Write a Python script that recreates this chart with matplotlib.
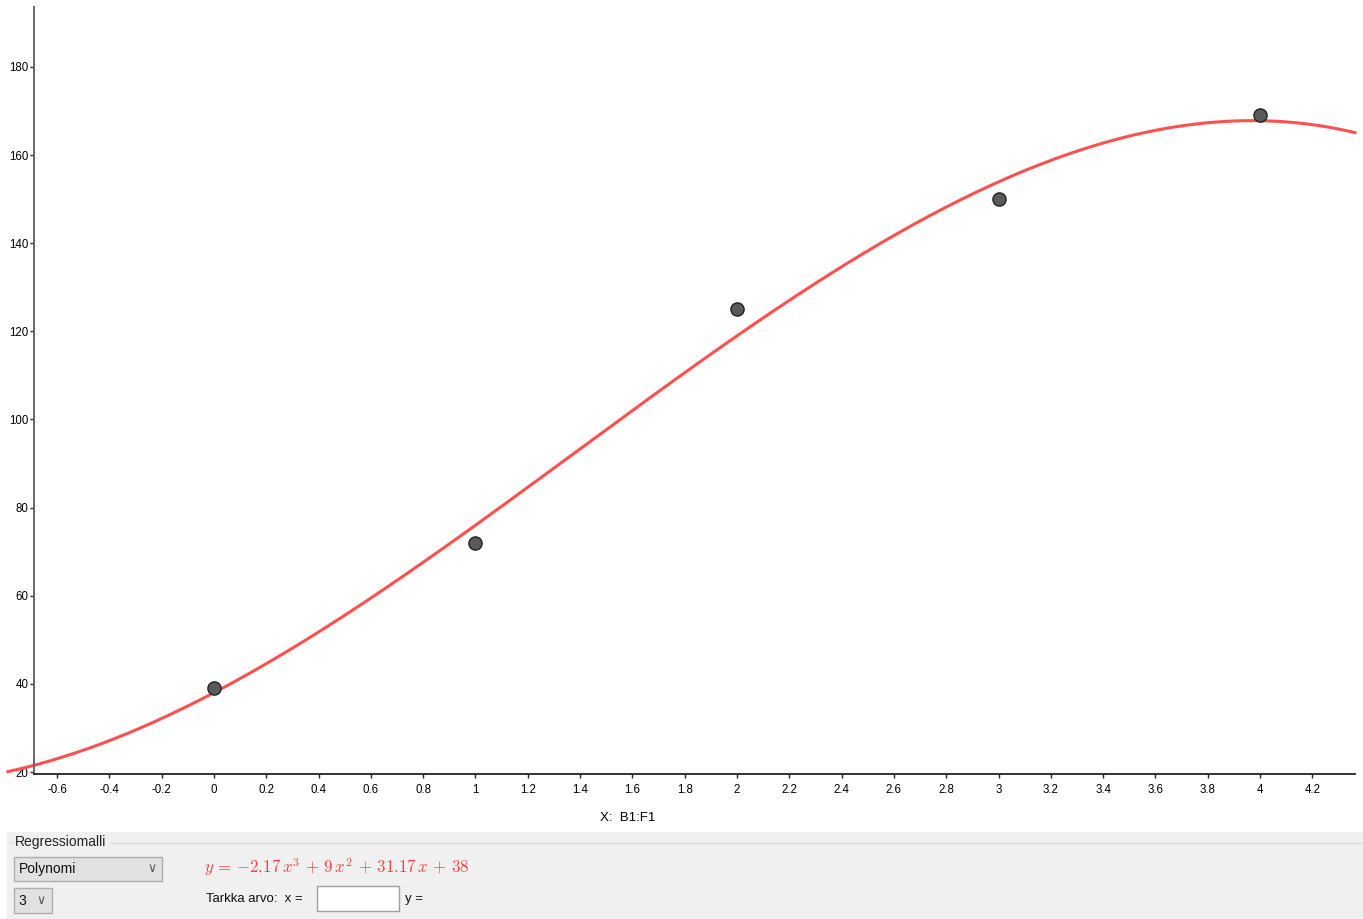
import numpy as np
import matplotlib.pyplot as plt
from matplotlib.patches import Rectangle

plt.rcParams['font.family'] = ['Liberation Sans', 'DejaVu Sans']
plt.rcParams['mathtext.fontset'] = 'cm'

# Data points (cells B1:F1)
x_data = [0, 1, 2, 3, 4]
y_data = [39, 72, 125, 150, 169]

# Cubic regression coefficients (highest power first)
coeffs = [-2.17, 9, 31.17, 38]

x_ticks = np.round(np.arange(-0.6, 4.21, 0.2), 1)
y_ticks = [20, 40, 60, 80, 100, 120, 140, 160, 180]

W, H = 1363, 919
fig = plt.figure(figsize=(W / 100, H / 100), dpi=100)


def fx(px):
    return px / W


def fy(py):
    return 1 - py / H


# plot area in pixels: axis line at x=34, x-axis at y=774
ax_l, ax_r, ax_t, ax_b = 34, 1355, 7, 774
ax = fig.add_axes([fx(ax_l), fy(ax_b), fx(ax_r - ax_l), (ax_b - ax_t) / H])
ax.set_xlim(-0.688, 4.363)
ax.set_ylim(19.55, 193.6)

for s in ['top', 'right']:
    ax.spines[s].set_visible(False)
ax.spines['left'].set_color('#666666')
ax.spines['left'].set_linewidth(1.4)
ax.spines['bottom'].set_color('#222222')
ax.spines['bottom'].set_linewidth(1.3)

ax.set_xticks(x_ticks)
ax.set_xticklabels(['%g' % t for t in x_ticks])
ax.set_yticks(y_ticks)
ax.tick_params(axis='both', direction='out', length=3, width=1, color='#222222',
               labelsize=8.3)
ax.tick_params(axis='y', pad=1)
ax.tick_params(axis='x', pad=4)

# regression curve, extending slightly left of the y-axis line
xs = np.linspace(-0.788, 4.363, 400)
ys = np.polyval(coeffs, xs)
ax.plot(xs, ys, color='#ff5050', lw=2.2, clip_on=False, zorder=2)
ax.plot(x_data, y_data, 'o', ms=9.5, mfc='#5a5a5a', mec='#222222', mew=1.0,
        zorder=3)

fig.text(fx(628), fy(818), 'X:  B1:F1', fontsize=9.5, ha='center', va='center')

# bottom control panel
fig.patches.append(Rectangle((fx(7), 0), fx(W - 7), fy(832), transform=fig.transFigure,
                             facecolor='#f0f0f0', edgecolor='none', zorder=0))
fig.add_artist(plt.Line2D([fx(110), fx(W)], [fy(843), fy(843)], color='#dcdcdc', lw=1))
fig.add_artist(plt.Line2D([fx(9), fx(12)], [fy(843), fy(843)], color='#dcdcdc', lw=1))
fig.text(fx(15), fy(842), 'Regressiomalli', fontsize=10, va='center', color='#222222')

# dropdowns
fig.patches.append(Rectangle((fx(14), fy(881)), fx(148), (881 - 857) / H,
                             transform=fig.transFigure, facecolor='#e1e1e1',
                             edgecolor='#adadad', lw=1))
fig.text(fx(19), fy(869), 'Polynomi', fontsize=10, va='center', color='#111111')
fig.text(fx(152), fy(869), '\u2228', fontsize=9, va='center', ha='center', color='#555555')
fig.patches.append(Rectangle((fx(14), fy(913)), fx(38), (913 - 888) / H,
                             transform=fig.transFigure, facecolor='#e1e1e1',
                             edgecolor='#adadad', lw=1))
fig.text(fx(18), fy(901), '3', fontsize=10, va='center', color='#111111')
fig.text(fx(41), fy(901), '\u2228', fontsize=9, va='center', ha='center', color='#555555')

# regression equation
a3, a2, a1, a0 = coeffs
sp = r'\,'
eq = (r'$y' + sp + '=' + sp + '{-}%g' % abs(a3) + r'\,x^3' + sp + '+' + sp + '%g' % a2
      + r'\,x^2' + sp + '+' + sp + '%g' % a1 + r'\,x' + sp + '+' + sp + '%g$' % a0)
fig.text(fx(204), fy(867), eq, fontsize=12.2, va='center', color='#ff4040')

fig.text(fx(206), fy(899), 'Tarkka arvo:  x =', fontsize=9.5, va='center', color='#111111')
fig.patches.append(Rectangle((fx(317), fy(911)), fx(82), (911 - 886) / H,
                             transform=fig.transFigure, facecolor='white',
                             edgecolor='#a0a0a0', lw=1))
fig.text(fx(405), fy(899), 'y =', fontsize=9.5, va='center', color='#111111')

fig.savefig('out.png', dpi=100)
